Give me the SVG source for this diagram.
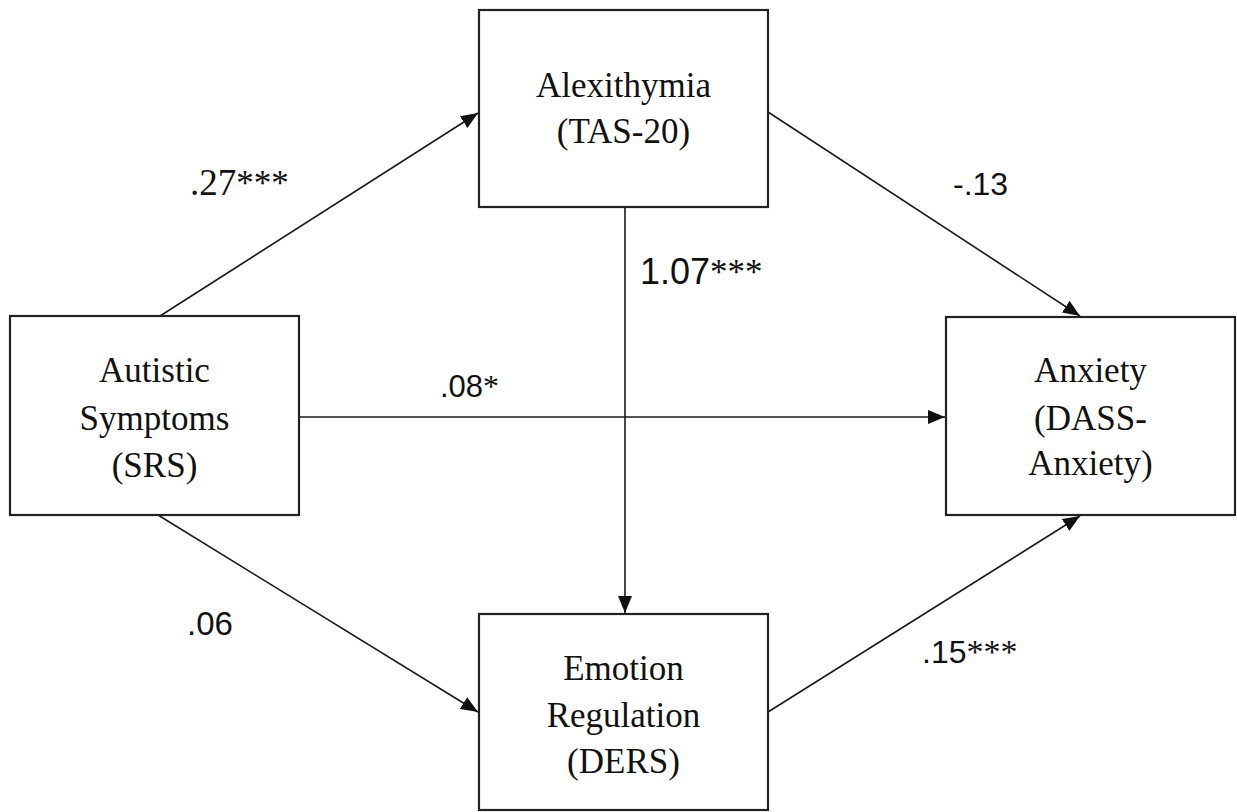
<svg xmlns="http://www.w3.org/2000/svg" width="1237" height="812" viewBox="0 0 1237 812">
<style>
.box{fill:#fff;stroke:#222;stroke-width:2.2}
.node{font-family:"Liberation Serif","Times New Roman",serif;font-size:35px;fill:#111;text-anchor:middle}
.edge{stroke:#1a1a1a;stroke-width:1.6;fill:none}
.lab{font-family:"Liberation Sans",Arial,sans-serif;fill:#111}
.ser{font-family:"Liberation Serif","Times New Roman",serif;fill:#111}
.ast{font-family:"Liberation Serif","Times New Roman",serif}
</style>
<defs>
<marker id="ah" markerUnits="userSpaceOnUse" markerWidth="18" markerHeight="14" refX="17" refY="7" orient="auto">
<path d="M0,0 L17,7 L0,14 z" fill="#111"/>
</marker>
</defs>
<rect width="1237" height="812" fill="#fff"/>
<g id="connectors">
<line class="edge" x1="160" y1="316" x2="478" y2="113" marker-end="url(#ah)"/>
<line class="edge" x1="768" y1="112" x2="1080" y2="316" marker-end="url(#ah)"/>
<line class="edge" x1="299" y1="417" x2="945" y2="417" marker-end="url(#ah)"/>
<line class="edge" x1="625" y1="207" x2="625" y2="613" marker-end="url(#ah)"/>
<line class="edge" x1="158" y1="515" x2="478" y2="712" marker-end="url(#ah)"/>
<line class="edge" x1="768" y1="712" x2="1080" y2="516" marker-end="url(#ah)"/>
</g>
<g id="labels">
<text class="ser" x="190" y="195" font-size="37">.27<tspan class="ast" font-size="35">***</tspan></text>
<text class="lab" x="953" y="195" font-size="32">-.13</text>
<text class="lab" x="640" y="284" font-size="36">1.07<tspan class="ast" font-size="35">***</tspan></text>
<text class="lab" x="440" y="397" font-size="31">.08<tspan class="ast" font-size="32">*</tspan></text>
<text class="lab" x="187" y="635" font-size="33">.06</text>
<text class="lab" x="922" y="663" font-size="32">.15<tspan class="ast" font-size="34">***</tspan></text>
</g>
<g id="node-autistic">
<rect class="box" x="10" y="316" width="289" height="199"/>
<text class="node" x="154.5" y="382">Autistic</text>
<text class="node" x="154.5" y="430">Symptoms</text>
<text class="node" x="154.5" y="477">(SRS)</text>
</g>
<g id="node-alexithymia">
<rect class="box" x="479" y="10" width="289" height="197"/>
<text class="node" x="623.5" y="97">Alexithymia</text>
<text class="node" x="623.5" y="143">(TAS-20)</text>
</g>
<g id="node-anxiety">
<rect class="box" x="946" y="317" width="289" height="198"/>
<text class="node" x="1090.5" y="382">Anxiety</text>
<text class="node" x="1090.5" y="430">(DASS-</text>
<text class="node" x="1090.5" y="475">Anxiety)</text>
</g>
<g id="node-emotion">
<rect class="box" x="479" y="614" width="289" height="196"/>
<text class="node" x="623.5" y="680">Emotion</text>
<text class="node" x="623.5" y="727">Regulation</text>
<text class="node" x="623.5" y="773">(DERS)</text>
</g>
</svg>
